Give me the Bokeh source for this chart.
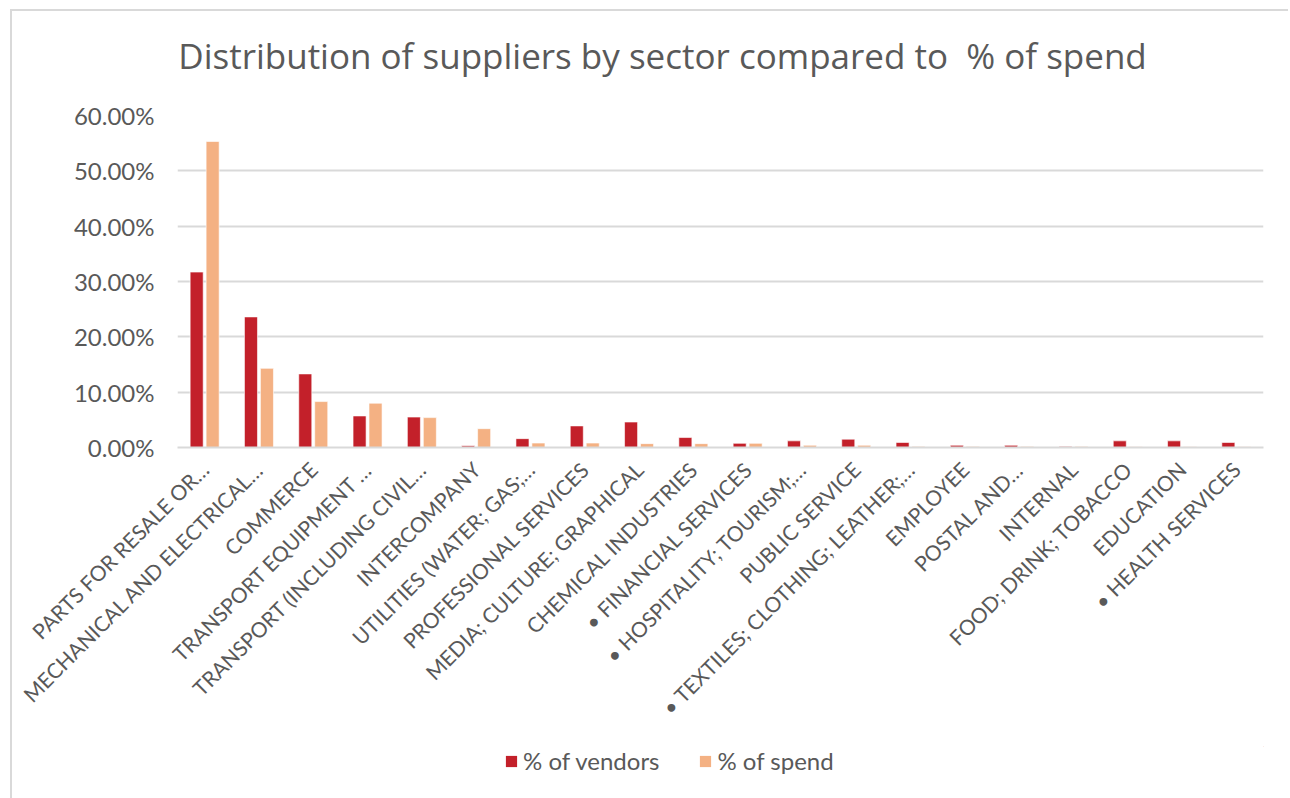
from bokeh.plotting import figure
from bokeh.layouts import column
from bokeh.models import ColumnDataSource, FactorRange, NumeralTickFormatter, Legend, LegendItem, FixedTicker, Label
from bokeh.transform import dodge
from bokeh.embed import file_html
from bokeh.resources import INLINE

categories = [
    "PARTS FOR RESALE OR…",
    "MECHANICAL AND ELECTRICAL…",
    "COMMERCE",
    "TRANSPORT EQUIPMENT …",
    "TRANSPORT (INCLUDING CIVIL…",
    "INTERCOMPANY",
    "UTILITIES (WATER; GAS;…",
    "PROFESSIONAL SERVICES",
    "MEDIA; CULTURE; GRAPHICAL",
    "CHEMICAL INDUSTRIES",
    "• FINANCIAL SERVICES",
    "• HOSPITALITY; TOURISM;…",
    "PUBLIC SERVICE",
    "• TEXTILES; CLOTHING; LEATHER;…",
    "EMPLOYEE",
    "POSTAL AND…",
    "INTERNAL",
    "FOOD; DRINK; TOBACCO",
    "EDUCATION",
    "• HEALTH SERVICES",
]
pct_vendors = [0.317, 0.236, 0.133, 0.057, 0.055, 0.003, 0.016, 0.039, 0.046, 0.018,
               0.0075, 0.012, 0.015, 0.009, 0.004, 0.004, 0.002, 0.012, 0.012, 0.009]
pct_spend = [0.553, 0.143, 0.083, 0.080, 0.054, 0.034, 0.008, 0.008, 0.007, 0.007,
             0.0075, 0.004, 0.004, 0.002, 0.002, 0.002, 0.002, 0.0015, 0.0015, 0.0015]
y_ticks = [0.0, 0.1, 0.2, 0.3, 0.4, 0.5, 0.6]
title_text = "Distribution of suppliers by sector compared to \u00a0% of spend"
series_names = ["% of vendors", "% of spend"]

FONT = "Lato"
GREY = "#595959"
VENDOR_C = "#C3202A"
SPEND_C = "#F4B183"
W = 1276


def strip(height):
    f = figure(width=W, height=height, x_range=(0, 1), y_range=(0, 1),
               output_backend="svg", toolbar_location=None,
               min_border_left=0, min_border_right=0, min_border_top=0, min_border_bottom=0)
    f.axis.visible = False
    f.grid.grid_line_color = None
    f.outline_line_color = None
    f.background_fill_color = "white"
    f.border_fill_color = "white"
    return f


# title strip (its frame is aligned with the chart frame by the column layout)
p0 = strip(80)
p0.add_layout(Label(x=485, y=36, x_units="screen", y_units="screen", text=title_text,
                    text_align="center", text_baseline="middle", text_font="Open Sans",
                    text_font_size="35px", text_color=GREY))

# main chart
src = ColumnDataSource(dict(cat=categories, vendors=pct_vendors, spend=pct_spend))

p = figure(width=W, height=655, x_range=FactorRange(*categories), y_range=(0, 0.6),
           output_backend="svg", toolbar_location=None,
           min_border_left=165, min_border_right=25, min_border_top=24, min_border_bottom=299)
p.outline_line_color = None
p.background_fill_color = "white"
p.border_fill_color = "white"

r1 = p.vbar(x=dodge("cat", -0.147, range=p.x_range), top="vendors", width=0.24, source=src,
            fill_color=VENDOR_C, line_color="white", line_width=0.6)
r2 = p.vbar(x=dodge("cat", 0.147, range=p.x_range), top="spend", width=0.24, source=src,
            fill_color=SPEND_C, line_color="white", line_width=0.6)

p.yaxis.ticker = FixedTicker(ticks=y_ticks)
p.yaxis.formatter = NumeralTickFormatter(format="0.00%")
p.yaxis.axis_line_color = None
p.yaxis.major_tick_line_color = None
p.yaxis.minor_tick_line_color = None
p.yaxis.major_label_standoff = 17
p.yaxis.major_label_text_font = FONT
p.yaxis.major_label_text_font_size = "24px"
p.yaxis.major_label_text_color = GREY

p.xaxis.axis_line_color = "#d9d9d9"
p.xaxis.axis_line_width = 2
p.xaxis.major_tick_line_color = None
p.xaxis.minor_tick_line_color = None
p.xaxis.major_label_orientation = 0.785398
p.xaxis.major_label_standoff = 12
p.xaxis.major_label_text_font = FONT
p.xaxis.major_label_text_font_size = "21px"
p.xaxis.major_label_text_color = GREY

p.xgrid.grid_line_color = None
p.ygrid.grid_line_color = "#d9d9d9"
p.ygrid.grid_line_width = 2
p.ygrid.ticker = FixedTicker(ticks=y_ticks)

# legend strip (swatch renderers sit outside the visible range)
p2 = strip(52)
swatch_src = ColumnDataSource(dict(x=[5.0], top=[5.0]))
l1 = p2.vbar(x="x", top="top", bottom=4.0, width=0.1, source=swatch_src, fill_color=VENDOR_C, line_color=None)
l2 = p2.vbar(x="x", top="top", bottom=4.0, width=0.1, source=swatch_src, fill_color=SPEND_C, line_color=None)
legend = Legend(items=[LegendItem(label=series_names[0], renderers=[l1]),
                       LegendItem(label=series_names[1], renderers=[l2])],
                orientation="horizontal", location=(327, 23),
                label_text_font=FONT, label_text_font_size="24px", label_text_color=GREY,
                glyph_width=14, glyph_height=14, spacing=39, padding=4, margin=0,
                border_line_color=None, background_fill_alpha=0)
p2.add_layout(legend, "center")

layout = column(p0, p, p2, spacing=0, margin=(9, 0, 0, 10))
layout.styles = {"border-left": "2px solid #d9d9d9", "border-top": "2px solid #d9d9d9"}

open("out.html", "w").write(file_html(layout, INLINE))
